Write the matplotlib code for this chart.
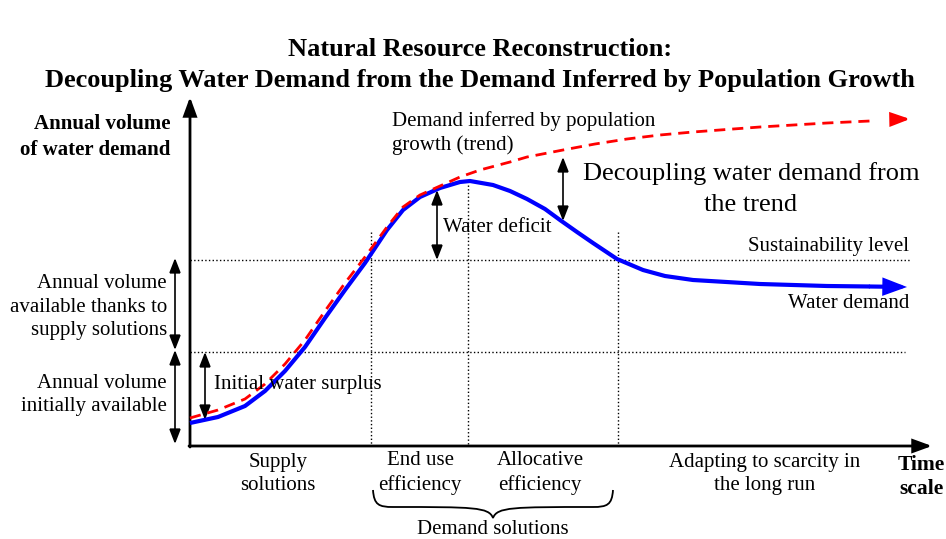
import matplotlib.pyplot as plt
from matplotlib.patches import FancyArrowPatch, PathPatch
from matplotlib.path import Path

plt.rcParams['font.family'] = ['Liberation Serif', 'DejaVu Serif']

# curve samples (x = time, y = volume; pixel-like units, y grows downward)
demand_x = [190, 218, 245, 265, 285, 305, 325, 345, 365, 387, 403, 420, 440, 460, 470,
            493, 510, 527, 545, 560, 577, 593, 617, 643, 665, 693, 760, 827, 870, 907]
demand_y = [423, 417, 406, 391, 371, 347, 318, 290, 263, 230, 210, 197, 188, 182, 181,
            185, 191, 199, 209, 220, 232, 243, 259, 270, 276, 280, 284, 286, 286.5, 287]
trend_x = [190, 218, 245, 265, 285, 305, 325, 345, 365, 387, 403, 420, 440, 460, 480,
           510, 527, 563, 595, 627, 660, 693, 760, 827, 870, 910]
trend_y = [418, 410, 399, 384, 364, 340, 311, 283, 257, 227, 207, 195, 186, 177, 170,
           162, 157, 150, 144, 139, 135, 132, 127, 123, 121, 119]

sustainability_level = 260
initial_level = 352
phase_bounds = [371, 468, 618]

fig = plt.figure(figsize=(9.46, 5.39), dpi=100)
ax = fig.add_axes([0, 0, 1, 1])
ax.set_xlim(0, 946)
ax.set_ylim(539, 0)
ax.axis('off')


def arrow(p0, p1, style, color='black', lw=1.2):
    ax.add_patch(FancyArrowPatch(p0, p1, arrowstyle=style, color=color, lw=lw,
                                 mutation_scale=1, shrinkA=0, shrinkB=0, joinstyle='miter'))


# title
ax.text(480, 50, 'Natural Resource Reconstruction:', ha='center', va='center',
        fontsize=19, fontweight='bold')
ax.text(480, 80, 'Decoupling Water Demand from the Demand Inferred by Population Growth',
        ha='center', va='center', fontsize=19, fontweight='bold')

# axes arrows
arrow((190, 447), (190, 97), '-|>,head_length=11,head_width=4', lw=2)
arrow((189, 446), (932, 446), '-|>,head_length=11,head_width=4', lw=2)

# dotted reference lines
ax.plot([190, 910], [sustainability_level] * 2, ls=':', color='black', lw=1)
ax.plot([190, 905], [initial_level] * 2, ls=':', color='black', lw=1)
ax.plot([phase_bounds[0]] * 2, [232, 445], ls=':', color='black', lw=1)
ax.plot([phase_bounds[1]] * 2, [185, 445], ls=':', color='black', lw=1)
ax.plot([phase_bounds[2]] * 2, [232, 445], ls=':', color='black', lw=1)

# curves
ax.plot(demand_x[:-1], demand_y[:-1], color='blue', lw=3, solid_capstyle='butt',
        solid_joinstyle='round')
arrow((demand_x[-2], demand_y[-2]), (demand_x[-1], demand_y[-1]),
      '-|>,head_length=12,head_width=4.5', color='blue', lw=3)
ax.plot(trend_x[:-1], trend_y[:-1], color='red', lw=2, ls=(0, (4, 2.5)))
arrow((trend_x[-1] - 14, trend_y[-1] + 0.3), (trend_x[-1], trend_y[-1]),
      '-|>,head_length=11,head_width=4', color='red', lw=2)


def double_arrow(x, y0, y1):
    arrow((x, y0), (x, y1), '<|-|>,head_length=9,head_width=3.5', lw=1.2)


double_arrow(175, 258, 350)
double_arrow(175, 350, 444)
double_arrow(205, 352, 420)
double_arrow(437, 190, 260)
double_arrow(563, 157, 221)

fs = 15
ls_ = 1.31
# y axis label
ax.text(170, 124, 'Annual volume', ha='right', va='center', fontsize=15, fontweight='bold')
ax.text(170, 150, 'of water demand', ha='right', va='center', fontsize=15, fontweight='bold')

ax.text(167, 307, 'Annual volume\navailable thanks to\nsupply solutions', ha='right',
        va='center', fontsize=fs, linespacing=ls_, multialignment='right')
ax.text(167, 395, 'Annual volume\ninitially available', ha='right', va='center',
        fontsize=fs, linespacing=ls_, multialignment='right')

ax.text(214, 385, 'Initial water surplus', ha='left', va='center', fontsize=fs)
ax.text(443, 227, 'Water deficit', ha='left', va='center', fontsize=fs)
ax.text(392, 133, 'Demand inferred by population\ngrowth (trend)', ha='left', va='center',
        fontsize=fs, linespacing=ls_)
ax.text(751, 189, 'Decoupling water demand from\nthe trend', ha='center', va='center',
        fontsize=19, linespacing=1.5)
ax.text(909, 246, 'Sustainability level', ha='right', va='center', fontsize=fs)
ax.text(909, 303, 'Water demand', ha='right', va='center', fontsize=fs)

# bottom phase labels
ax.text(278, 474, 'Supply\nsolutions', ha='center', va='center', fontsize=fs, linespacing=ls_)
ax.text(420, 473, 'End use\nefficiency', ha='center', va='center', fontsize=fs, linespacing=ls_)
ax.text(540, 473, 'Allocative\nefficiency', ha='center', va='center', fontsize=fs,
        linespacing=ls_)
ax.text(765, 474, 'Adapting to scarcity in\nthe long run', ha='center', va='center',
        fontsize=fs, linespacing=ls_)
ax.text(921, 477, 'Time\nscale', ha='center', va='center', fontsize=15.5, fontweight='bold',
        linespacing=ls_)

# brace under demand solutions
bl, br, bt, bb = 373, 613, 490, 518
mid = (bl + br) / 2
hy = 507
verts = [(bl, bt), (bl + 1, hy - 2), (bl + 6, hy), (bl + 20, hy),
         (mid - 20, hy), (mid - 4, hy), (mid, bb),
         (mid + 4, hy), (mid + 20, hy), (br - 20, hy),
         (br - 6, hy), (br - 1, hy - 2), (br, bt)]
codes = [Path.MOVETO] + [Path.CURVE4] * 12
ax.add_patch(PathPatch(Path(verts, codes), fill=False, lw=1.3, color='black'))
ax.text(mid, 529, 'Demand solutions', ha='center', va='center', fontsize=fs)

fig.savefig('out.png', dpi=100)
